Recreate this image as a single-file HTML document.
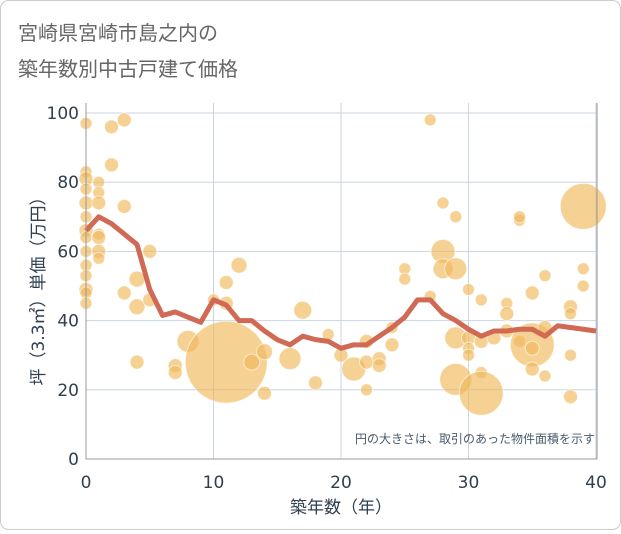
<!DOCTYPE html>
<html><head><meta charset="utf-8">
<style>
body{margin:0;background:#fff;}
#wrap{width:621px;height:530px;position:relative;font-family:"DejaVu Sans","Noto Sans CJK JP",sans-serif;}
svg text{font-family:"DejaVu Sans","Noto Sans CJK JP",sans-serif;}
</style></head>
<body>
<div id="wrap">
<svg id="chart" width="621" height="530">
<rect x="0.5" y="0.5" width="620" height="529" rx="8" fill="#fff" stroke="#ccc"/>
<text x="18" y="40" font-size="20" fill="#666">宮崎県宮崎市島之内の</text>
<text x="18" y="76" font-size="20" fill="#666">築年数別中古戸建て価格</text>
<g id="grid"></g>
<g id="bubbles"></g>
<g id="line"></g>
<g id="axes"></g>
<text x="595" y="443" font-size="12" fill="#4a5a6a" text-anchor="end">円の大きさは、取引のあった物件面積を示す</text>
<text x="341" y="513" font-size="17" fill="#2f3f50" text-anchor="middle">築年数（年）</text>
<text transform="translate(44,287) rotate(-90)" font-size="17" fill="#2f3f50" text-anchor="middle">坪（3.3㎡）単価（万円）</text>
</svg>
</div>
<script>
const xTicks=[0,10,20,30,40];
const yTicks=[0,20,40,60,80,100];
const lineYears=[0,1,2,3,4,5,6,7,8,9,10,11,12,13,14,15,16,17,18,19,20,21,22,23,24,25,26,27,28,29,30,31,32,33,34,35,36,37,38,39,40];
const lineValues=[66,70,68,65,62,49,41.5,42.5,41,39.5,46,44.5,40,40,37,34.5,33,35.5,34.5,34,32,33,33,35.5,38,41,46,46,42,40,37.5,35.5,37,37,37.5,37.5,35.5,38.5,38,37.5,37];
const bubbleX=[0,0,0,0,0,0,0,0,0,0,0,0,0,0,1,1,1,1,1,1,1,2,2,3,3,3,4,4,4,5,5,7,7,8,10,11,11,11,12,13,14,14,16,17,18,19,20,21,22,22,22,23,23,24,24,25,25,27,27,28,28,28,29,29,29,29,30,30,30,30,31,31,31,31,32,33,33,33,34,34,34,35,35,35,35,36,36,36,38,38,38,38,39,39,39];
const bubbleY=[97,83,81,78,74,70,66,64,60,56,53,49,48,45,80,77,74,65,64,60,58,96,85,98,73,48,52,44,28,60,46,27,25,34,46,51,45,28,56,28,31,19,29,43,22,36,30,26,34,28,20,29,27,33,38,55,52,98,47,74,60,55,70,55,35,23,49,35,32,30,46,34,25,19,35,45,42,37,69,70,34,48,33,26,32,53,38,24,44,42,30,18,73,55,50];
const bubbleSize=[6,6,7,6,7,6,7,6,6,6,6,7,6,6,6,6,7,6,7,7,6,7,7,7,7,7,8,8,7,7,7,7,7,11,6,7,7,41,8,8,8,7,11,9,7,6,7,12,7,7,6,7,7,7,6,6,6,6,6,6,12,10,6,11,11,16,6,7,6,6,6,7,6,22,7,6,7,7,6,6,6,7,22,7,7,6,7,6,7,6,6,7,23,6,6];
const X0=86,X1=596,Y0=459,Y1=113;
const xs=v=>X0+(v-0)/(40-0)*(X1-X0);
const ys=v=>Y0-(v-0)/(100-0)*(Y0-Y1);
const NS="http://www.w3.org/2000/svg";
function mk(t,a){const e=document.createElementNS(NS,t);for(const k in a)e.setAttribute(k,a[k]);return e;}
const grid=document.getElementById('grid');
for(const t of xTicks){if(t===0)continue;const l=mk('line',{x1:xs(t),x2:xs(t),y1:103,y2:Y0,stroke:'#c8d6e2','stroke-width':1});

grid.appendChild(l);}
for(const t of yTicks){if(t===0)continue;const l=mk('line',{x1:X0,x2:X1+1,y1:ys(t),y2:ys(t),stroke:'#c8d6e2','stroke-width':1});

grid.appendChild(l);}
const bg=document.getElementById('bubbles');
bubbleX.forEach((x,i)=>{const c=mk('circle',{cx:xs(x),cy:ys(bubbleY[i]),r:bubbleSize[i],fill:'rgba(240,185,90,0.65)',stroke:'rgba(255,255,255,0.6)','stroke-width':1});

bg.appendChild(c);});
const lg=document.getElementById('line');
const p=mk('polyline',{points:lineYears.map((x,i)=>xs(x)+','+ys(lineValues[i])).join(' '),fill:'none',stroke:'#d06a55','stroke-width':5,'stroke-linejoin':'round'});

lg.appendChild(p);
const ax=document.getElementById('axes');
const fr=mk('path',{d:`M${X0} 103 L${X0} ${Y0} L${X1+1} ${Y0} L${X1+1} 103`,fill:'none',stroke:'#999','stroke-width':1});

ax.appendChild(fr);
for(const t of xTicks){const e=mk('text',{x:xs(t),y:488,'font-size':17,fill:'#2f3f50','text-anchor':'middle'});e.textContent=t;

ax.appendChild(e);}
for(const t of yTicks){const e=mk('text',{x:79,y:ys(t)+6,'font-size':17,fill:'#2f3f50','text-anchor':'end'});e.textContent=t;

ax.appendChild(e);}
</script>
</body></html>
